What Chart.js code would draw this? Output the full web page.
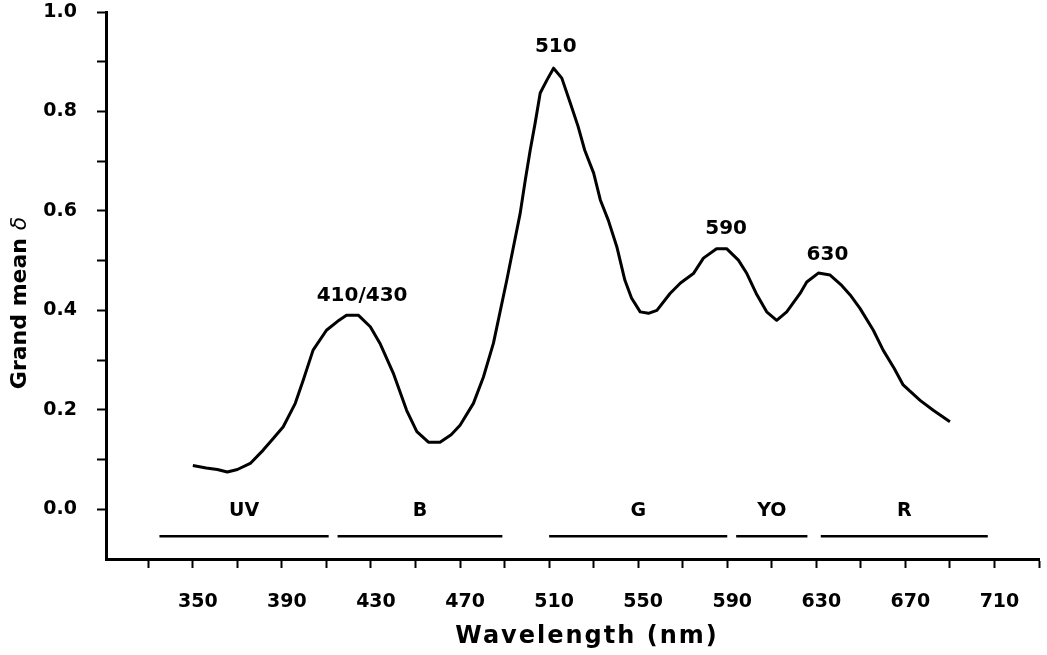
<!DOCTYPE html>
<html>
<head>
<meta charset="utf-8">
<script src="https://cdn.jsdelivr.net/npm/chart.js@4.4.0/dist/chart.umd.min.js"></script>
<style>
    html, body { margin: 0; padding: 0; background: #fff; }
    #wrap { width: 1047px; height: 655px; }
</style>
</head>
<body>
<div id="wrap"><canvas id="myChart"></canvas></div>
<script>
// curve
const wavelength = [350, 356, 361, 365.5, 370, 376, 381.6, 386, 390.6, 396, 399.6, 404, 410, 415, 419, 424.4,
    429.7, 434, 440, 446, 450.6, 455.8, 461, 466, 470, 476, 480.5, 485, 491, 497, 499.3, 501.5, 503.7, 506, 509,
    512, 515.7, 519.5, 523, 526, 530, 533, 536.6, 540.4, 544, 547, 550.9, 554.6, 558.4, 564.3, 569, 574.8, 579.3,
    585.2, 589.7, 595, 598.8, 603, 607.7, 612.2, 616.7, 622.7, 625.7, 630.9, 636.2, 641, 645.2, 649.6, 655.6, 660,
    665, 669, 676.6, 682.5, 690];
const grandMean = [0.088, 0.083, 0.080, 0.075, 0.080, 0.093, 0.119, 0.142, 0.166, 0.213, 0.26, 0.32, 0.36, 0.378,
    0.39, 0.39, 0.367, 0.334, 0.274, 0.199, 0.156, 0.135, 0.135, 0.15, 0.169, 0.213, 0.266, 0.334, 0.461, 0.595,
    0.662, 0.722, 0.776, 0.837, 0.863, 0.887, 0.867, 0.817, 0.77, 0.722, 0.676, 0.622, 0.581, 0.528, 0.461, 0.425,
    0.397, 0.394, 0.40, 0.434, 0.455, 0.474, 0.505, 0.524, 0.524, 0.501, 0.474, 0.434, 0.397, 0.38, 0.397, 0.434,
    0.457, 0.475, 0.471, 0.452, 0.431, 0.404, 0.36, 0.32, 0.283, 0.25, 0.219, 0.199, 0.176];

// colour bands under the curve
const bandNames = ['UV', 'B', 'G', 'YO', 'R'];
const bandStart = [335, 415, 510, 594, 632];
const bandEnd = [411, 489, 590, 626, 707];
const bandLineLevel = -0.054;

// peak annotations
const peakNames = ['410/430', '510', '590', '630'];
const peakNm = [426, 513, 589.5, 635];
const peakVal = [0.43, 0.93, 0.564, 0.512];

const xTicks = [330, 350, 370, 390, 410, 430, 450, 470, 490, 510, 530, 550, 570, 590, 610, 630, 650, 670, 690, 710, 730];
const yTicks = [0, 0.1, 0.2, 0.3, 0.4, 0.5, 0.6, 0.7, 0.8, 0.9, 1.0];

Chart.defaults.font.family = 'DejaVu Sans';
Chart.defaults.color = '#000';

const datasets = [{
    data: wavelength.map((w, i) => ({ x: w, y: grandMean[i] })),
    borderColor: '#000',
    borderWidth: 3,
    borderJoinStyle: 'round',
    pointRadius: 0,
    tension: 0
}];
bandNames.forEach((b, i) => {
    datasets.push({
        data: [{ x: bandStart[i], y: bandLineLevel }, { x: bandEnd[i], y: bandLineLevel }],
        borderColor: '#000',
        borderWidth: 2.5,
        pointRadius: 0
    });
});

const textPlugin = {
    id: 'texts',
    afterDraw(chart) {
        const { ctx, scales: { x, y } } = chart;
        ctx.save();
        ctx.fillStyle = '#000';
        ctx.textAlign = 'center';
        ctx.textBaseline = 'middle';
        ctx.font = 'bold 19px "DejaVu Sans"';
        const lineY = y.getPixelForValue(bandLineLevel);
        bandNames.forEach((b, i) => {
            ctx.fillText(b, x.getPixelForValue((bandStart[i] + bandEnd[i]) / 2), lineY - 25);
        });
        ctx.font = 'bold 20px "DejaVu Sans"';
        peakNames.forEach((p, i) => {
            ctx.fillText(p, x.getPixelForValue(peakNm[i]), y.getPixelForValue(peakVal[i]));
        });

        // x title
        ctx.font = 'bold 24px "DejaVu Sans"';
        ctx.letterSpacing = '2px';
        ctx.fillText('Wavelength (nm)', 587, 637);
        ctx.letterSpacing = '0px';

        // y title with italic delta
        ctx.translate(20, 303);
        ctx.rotate(-Math.PI / 2);
        ctx.textAlign = 'left';
        const part1 = 'Grand mean ';
        ctx.font = 'bold 22px "DejaVu Sans"';
        const w1 = ctx.measureText(part1).width;
        ctx.font = 'italic 22px "DejaVu Sans"';
        const w2 = ctx.measureText('δ').width;
        const start = -(w1 + w2) / 2;
        ctx.font = 'bold 22px "DejaVu Sans"';
        ctx.fillText(part1, start, 0);
        ctx.font = 'italic 22px "DejaVu Sans"';
        ctx.fillText('δ', start + w1, 0);
        ctx.restore();
    }
};

new Chart(document.getElementById('myChart'), {
    type: 'line',
    data: { datasets: datasets },
    options: {
        responsive: true,
        maintainAspectRatio: false,
        animation: false,
        layout: { padding: { top: 12, right: 8, left: 0, bottom: 0 } },
        plugins: { legend: { display: false }, tooltip: { enabled: false } },
        scales: {
            x: {
                type: 'linear',
                min: 311,
                max: 730,
                afterBuildTicks: (s) => { s.ticks = xTicks.map(v => ({ value: v })); },
                afterFit: (s) => {
                    s.height = 96;
                    s.paddingLeft = 0;
                    s.paddingRight = 0;
                },
                grid: { drawOnChartArea: false, drawTicks: true, tickLength: 9, tickWidth: 2, tickColor: '#000' },
                border: { display: true, color: '#000', width: 3 },
                ticks: {
                    autoSkip: false,
                    maxRotation: 0,
                    padding: 23,
                    labelOffset: 5,
                    font: { size: 19, weight: 'bold' },
                    callback: (v) => ((v - 350) % 40 === 0 ? String(v) : '')
                }
            },
            y: {
                min: -0.1,
                max: 1.0,
                afterBuildTicks: (s) => { s.ticks = yTicks.map(v => ({ value: v })); },
                afterFit: (s) => {
                    s.width = 106;
                    s.paddingTop = 0;
                    s.paddingBottom = 0;
                },
                grid: { drawOnChartArea: false, drawTicks: true, tickLength: 9, tickWidth: 2, tickColor: '#000' },
                border: { display: true, color: '#000', width: 3 },
                ticks: {
                    autoSkip: false,
                    padding: 20,
                    font: { size: 19, weight: 'bold' },
                    callback: (v) => (Math.round(v * 10) % 2 === 0 ? v.toFixed(1) : '')
                }
            }
        }
    },
    plugins: [textPlugin]
});
</script>
</body>
</html>
